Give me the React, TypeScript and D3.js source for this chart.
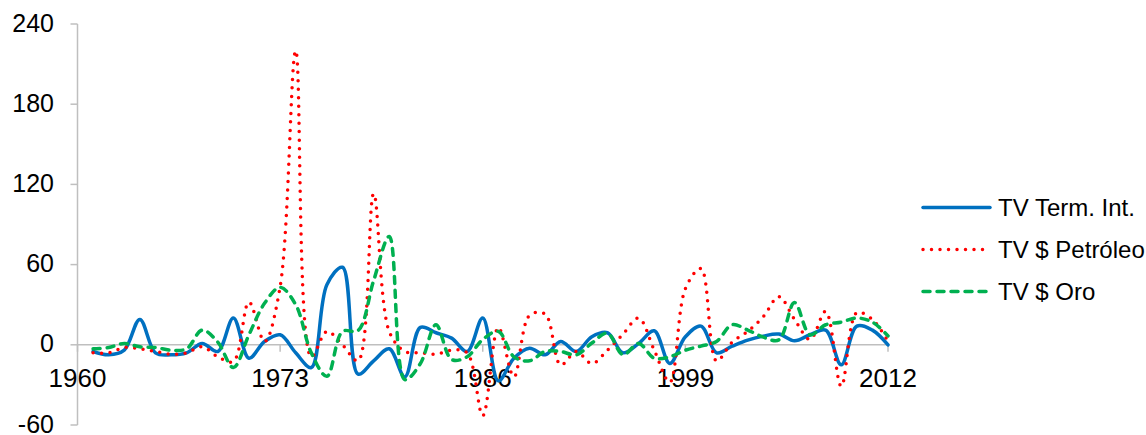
import React from "react";
import * as d3 from "d3";

// Años de la serie (tasas de variación anuales)
const years: number[] = d3.range(1961, 2013);

// TV Términos de intercambio
const termInt: number[] = [
  -5, -7.5, -4, 19, -6, -7.5, -6, 1, -5, 20,
  -10, 2.5, 7.5, -6, -17, 45, 58, -22, -12, -3,
  -24, 13, 9, 5, -5, 20, -27, -10, -2.5, -7.5,
  2.5, -5, 6, 9, -6, 1, 10.5, -14, 6, 14,
  -6, -1, 3.5, 6.5, 8, 3, 7.5, 11, -15, 14,
  11, 0,
];

// TV precio del petróleo
const petroleo: number[] = [
  -6, -6, -2, -3, -5, -7, -6, -1.5, -9, -12.5,
  32, 2.5, 43.5, 220, -9, 10, 0, -12, 113, 10,
  -5, -6, -7, -4, -6, -53, 13, -24, 22, 23,
  -15, -5, -14, -4, 8, 20, -4, -28, 42, 57,
  -12, 2, 10, 21, 36, 19, 4, 25, -31, 24,
  19, 2.5,
];

// TV precio del oro
const oro: number[] = [
  -3, -2, 1, -1.5, -2, -4, -3, 11, 2, -17,
  7.5, 31, 43, 30, -6, -23.6, 10, 10.7, 48, 81,
  -26, -14, 15, -11, -9, 4, 10, -9, -12, -5,
  -5, -7.5, 1.3, 8.7, -7.5, 1, -10, -9, -4, -1,
  2.5, 15, 11, 5.7, 3.7, 31.6, 7.5, 15, 17, 20,
  17, 6.7,
];

const yTicks: number[] = [-60, 0, 60, 120, 180, 240];
const xTickYears: number[] = [1960, 1973, 1986, 1999, 2012];

const seriesNames: string[] = ["TV Term. Int.", "TV $ Petróleo", "TV $ Oro"];

const W = 1146;
const H = 435;
const FONT = "'Liberation Sans', Arial, Helvetica, sans-serif";
const AXIS = "#BFBFBF";

const x = d3.scaleLinear().domain([1960, 2012]).range([77.5, 888]);
const y = d3.scaleLinear().domain([-60, 240]).range([425, 24]);

const styles = [
  { color: "#0070C0", width: 3.5, dash: undefined as string | undefined, cap: "round" },
  { color: "#FF0000", width: 3.5, dash: "0 8.5", cap: "round" },
  { color: "#00B050", width: 3.5, dash: "7 7", cap: "round" },
];

const lineGen = d3
  .line<[number, number]>()
  .x((d) => x(d[0]))
  .y((d) => y(d[1]))
  .curve(d3.curveCatmullRom.alpha(0.5));

export default function App() {
  const data = [termInt, petroleo, oro];
  const legendY = [207.5, 249.5, 291.5];
  return (
    <svg
      width={W}
      height={H}
      style={{ position: "absolute", left: 0, top: 0, background: "#fff" }}
      fontFamily={FONT}
    >
      {/* eje Y */}
      <line x1={x(1960)} x2={x(1960)} y1={y(240)} y2={y(-60)} stroke={AXIS} strokeWidth={1.5} />
      {yTicks.map((t) => (
        <g key={t}>
          <line x1={x(1960) - 7} x2={x(1960)} y1={y(t)} y2={y(t)} stroke={AXIS} strokeWidth={1.5} />
          <text x={54} y={y(t)} dy="0.3em" textAnchor="end" fontSize={25} fill="#000">
            {t}
          </text>
        </g>
      ))}
      {/* eje X en cero */}
      <line x1={x(1960)} x2={x(2012)} y1={y(0)} y2={y(0)} stroke={AXIS} strokeWidth={1.5} />
      {xTickYears.map((yr) => (
        <g key={yr}>
          <line x1={x(yr)} x2={x(yr)} y1={y(0)} y2={y(0) + 7} stroke={AXIS} strokeWidth={1.5} />
          <text x={x(yr)} y={387} textAnchor="middle" fontSize={26} fill="#000">
            {yr}
          </text>
        </g>
      ))}
      {/* series */}
      {data.map((vals, i) => (
        <path
          key={seriesNames[i]}
          d={lineGen(years.map((yr, j) => [yr, vals[j]] as [number, number])) || ""}
          fill="none"
          stroke={styles[i].color}
          strokeWidth={styles[i].width}
          strokeDasharray={styles[i].dash}
          strokeLinecap={styles[i].cap as any}
          strokeLinejoin="round"
        />
      ))}
      {/* leyenda */}
      {seriesNames.map((name, i) => (
        <g key={name}>
          <line
            x1={923}
            x2={990}
            y1={legendY[i]}
            y2={legendY[i]}
            stroke={styles[i].color}
            strokeWidth={styles[i].width}
            strokeDasharray={styles[i].dash}
            strokeLinecap={styles[i].cap as any}
          />
          <text x={998} y={legendY[i]} dy="0.35em" fontSize={24} fill="#000">
            {name}
          </text>
        </g>
      ))}
    </svg>
  );
}
